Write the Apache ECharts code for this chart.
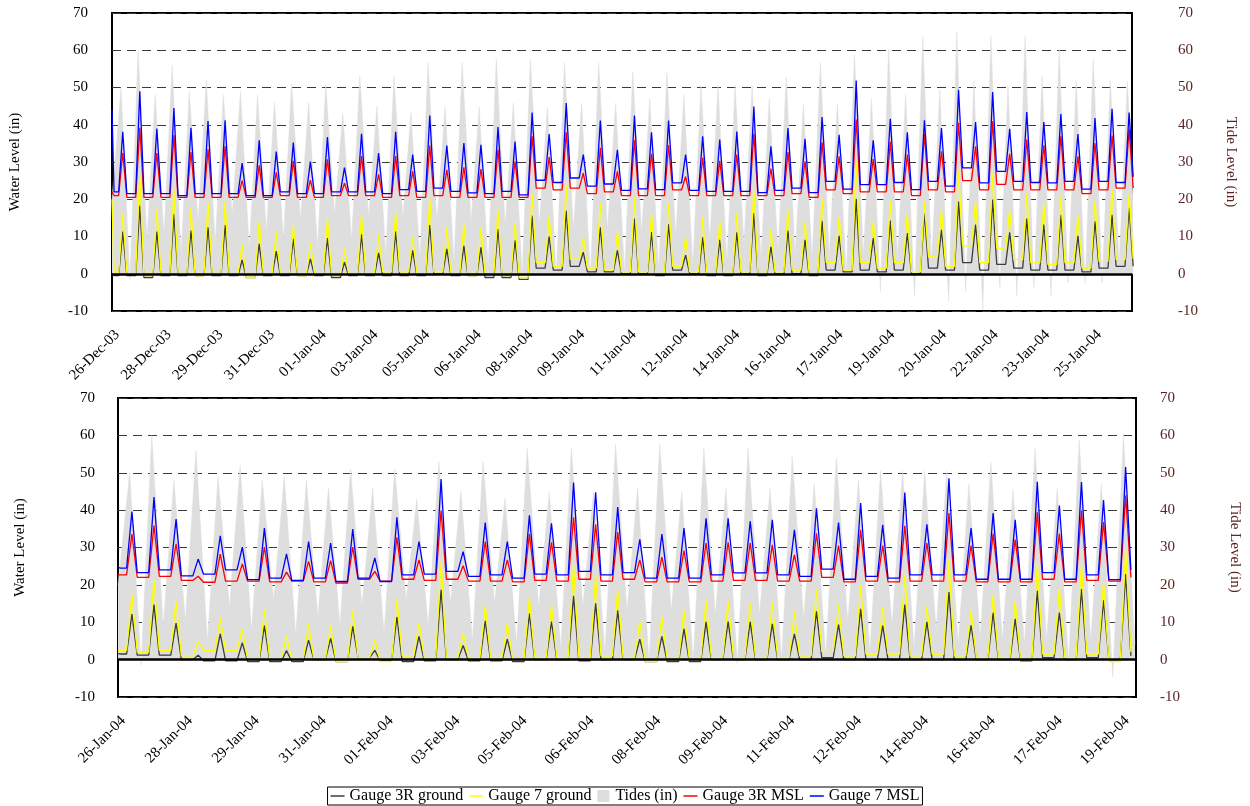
<!DOCTYPE html>
<html>
<head>
<meta charset="utf-8">
<title>Water Level / Tide Level</title>
<script src="https://cdn.jsdelivr.net/npm/echarts@6.0.0/dist/echarts.min.js"></script>
<style>
    html, body { margin: 0; padding: 0; background: #ffffff; }
    #chart { width: 1250px; height: 806px; }
</style>
</head>
<body>
<div id="chart"></div>
<script>
// x axis unit = one tidal cycle (~12.4 h); peak k sits at k + PHASE
var PHASE = 0.63;
var RISE = 0.24;       // gauge starts rising this far before its peak
var FALL = 0.24;       // and is back at base this far after
var TIDE_LEAD = 0.1;   // tide high comes a little before the gauge peak
var TIDE_LOW = 0.42;   // tide low between two highs
var LABEL_STEP = 3.03; // one date label every ~3 cycles

var FONT = 'Liberation Serif';
var TIDE_GRAY = '#dedede';

// ---- tick labels ----
var topDates = ['26-Dec-03', '28-Dec-03', '29-Dec-03', '31-Dec-03', '01-Jan-04', '03-Jan-04', '05-Jan-04',
    '06-Jan-04', '08-Jan-04', '09-Jan-04', '11-Jan-04', '12-Jan-04', '14-Jan-04', '16-Jan-04', '17-Jan-04',
    '19-Jan-04', '20-Jan-04', '22-Jan-04', '23-Jan-04', '25-Jan-04'];
var bottomDates = ['26-Jan-04', '28-Jan-04', '29-Jan-04', '31-Jan-04', '01-Feb-04', '03-Feb-04', '05-Feb-04',
    '06-Feb-04', '08-Feb-04', '09-Feb-04', '11-Feb-04', '12-Feb-04', '14-Feb-04', '16-Feb-04', '17-Feb-04',
    '19-Feb-04'];

// ---- tides (in), same sequence in both panels ----
var tideHighs = [50, 60, 48, 56, 49, 52, 48, 49, 48, 46, 51, 46, 51, 43, 53, 45, 53,
    43.3, 56.6, 44.8, 56.6, 44.8, 57.7, 45.8, 57.7, 44.8, 56.6, 45.8, 56.6, 45.8, 54.3, 47, 54, 48, 50.5, 50.5, 50.5, 50.5, 47, 52.8,
    45.4, 56.6, 45.7, 58.8, 47, 60.2, 48, 63.7, 49.4, 64.8, 51.7, 63.7, 50.5, 63.7, 53, 60.2, 51.8, 57.7, 51.8, 51.7];
var tideLows = [-1.5, 9, 10.5, 5, 14, 8, 16, 6.5, 11.4, 9.2, 14.5, 7, 16, 9,
    15, 5, 15, 4, 14, 3, 14, 2, 13, -0.5, 13, -0.5, 12, -1, 12, 0, 11, 1, 10, 2, 9, 3, 8, 4, 6, 5, 4, 5,
    -0.5, 5, -4.7, 4, -6, 3, -7.4, -4.7, -9.7, -3.6, -6, -3.6, -6, -2.5, -2.5, -2.5, 3, 3];

// ---- top panel: 26-Dec-03 .. 26-Jan-04 ----
// peaks: one per cycle; lows: base level before each peak (+ one trailing value)
var topBlackPeaks = [11.3, 18.3, 11.3, 16, 11.6, 12.5, 13.1, 3.7, 8, 6.1, 9.4, 4, 9.6, 3.1, 10.6, 5.6, 11.3,
    6.3, 13.1, 6.7, 7.5, 7.1, 12, 9, 15.6, 10, 16.9, 5.8, 12.5, 6.3, 14.8, 11.2, 13.3, 5, 9.8, 9.1, 11.1, 16.3, 7.2, 11.6,
    9.1, 14.2, 10.2, 20.1, 9.6, 14.3, 10.9, 16.3, 11.8, 19.4, 13.2, 19.9, 11.1, 14.8, 13.2, 15.8, 10.2, 14.1, 15.8, 17.8];
var topBlackLows = [-0.5, -0.5, -1, -0.5, -0.5, -0.5, -0.5, -0.5, -1, -0.5, -0.5, -0.5, -0.5, -1, -0.5, -0.5, -0.5,
    -0.5, -0.5, 0, -0.5, -0.5, -1, -1, -1.5, 1.5, 1, 2, 0.5, 0.5, 0, 0, -0.5, 1, 0, -0.5, -0.5, 0, -0.5, 0,
    0, -0.5, 1, 0.5, 1, 0.5, 1, 0, 1.5, 1, 3, 1, 2.5, 1.5, 1, 1, 1, 0.5, 1.5, 2, 2];
var topYellowPeaks = [16.3, 27.2, 17.2, 22.5, 17.6, 19.2, 19.3, 7.8, 14.2, 11.1, 13.1, 8.3, 14.9, 6.7, 15.8, 10.5, 16.5,
    10, 20.3, 12.3, 13.2, 12.5, 17.2, 13.6, 21.5, 15.4, 23.8, 9.8, 19, 11.4, 20.6, 16.3, 19, 9.8, 15, 14.1, 16.3, 22.7, 12, 17.2,
    14.1, 20.1, 15.2, 30, 14, 19.4, 16.1, 19.4, 17.2, 27.5, 19.4, 27, 17, 21.5, 18.8, 20.8, 15.6, 19.6, 22.4, 21.5];
var topYellowLows = [0, 0, -0.5, 0, 0, -0.5, 0, 0, -1, 0, 0, -0.5, 0, -0.5, 0, 0, 0.5,
    0.5, 0, 0.5, 0, -0.5, 0, -0.5, -1, 3, 2, 3.9, 1.5, 1, 0.5, 0.5, 0, 2, 0.5, 0, 0, 0.5, 0, 0.5,
    1, 0, 3, 1, 3, 1.5, 3, 0.5, 4.5, 2, 7.5, 3, 6.9, 3.8, 2.9, 2.5, 2.9, 1.5, 3.3, 3.8, 4];
var topRedPeaks = [32.4, 39.2, 32.4, 37.2, 32.7, 33.4, 34.3, 25, 29.1, 27.2, 30.3, 25.1, 30.7, 24.3, 31.6, 26.7, 31.6,
    27.5, 34.4, 27.9, 28.6, 28.1, 33.3, 30.2, 36.9, 31.3, 38, 27, 33.8, 27.5, 35.8, 32.2, 34.5, 26.1, 31.1, 30.3, 32, 37.6, 28.2, 32.7,
    30.2, 35.3, 31.5, 41.4, 30.8, 35.4, 32, 37.6, 32.9, 40.5, 34.2, 40.9, 32.2, 36, 34.5, 36.9, 31.5, 35.1, 37.1, 38.9];
var topRedLows = [21, 20.5, 20.5, 20.5, 20.5, 20.5, 20.5, 20.5, 20.5, 20.5, 21, 20.5, 20.5, 21, 21, 21, 20.5,
    21, 20.5, 21, 20.5, 20.5, 20.5, 20.5, 20.5, 23, 22.5, 23, 21.5, 22, 21, 21, 21, 22.5, 21, 21, 21, 21, 21, 21,
    21.5, 20.5, 22.5, 21.5, 22, 22, 22, 21, 22.5, 22, 25, 22.5, 24, 22.5, 22.5, 22.5, 22.5, 21.5, 22.5, 23, 23];
var topBluePeaks = [38.1, 49, 39, 44.5, 39.2, 41, 41.2, 29.7, 35.8, 32.8, 35.2, 30.1, 36.7, 28.5, 37.6, 32.4, 38.1,
    32, 42.5, 34.4, 35.1, 34.6, 39.4, 35.5, 43.3, 37.5, 45.8, 32, 41.1, 33.3, 42.5, 38, 41.1, 32, 36.9, 36, 38.2, 44.9, 34.2, 39.1,
    36.2, 42.1, 37.3, 51.9, 35.8, 41.6, 38, 41.2, 39.1, 49.4, 40.7, 48.8, 38.9, 43.4, 40.7, 42.9, 37.5, 41.8, 44.3, 43.3];
var topBlueLows = [22, 21.5, 21.5, 21.5, 21, 21.5, 21.5, 21.5, 21, 21, 22, 21.5, 21.5, 22, 22, 22, 21.5,
    22.6, 22.1, 23, 22.1, 21.7, 21.5, 22.1, 21.2, 25.1, 24.5, 25.7, 23.5, 24.1, 22.4, 22.8, 22.6, 24.4, 22.4, 22.1, 22.1, 22.1, 21.8, 22.4,
    23, 21.8, 24.8, 22.7, 23.9, 23.9, 24.5, 22.6, 24.8, 23.5, 28.4, 24.4, 27.5, 24.8, 24.5, 24.4, 24.8, 22.7, 24.8, 24.5, 26];
// value at the left edge: black, yellow, tide, red, blue
var topEdge = [0, 20, 20, 22, 44];

// ---- bottom panel: 26-Jan-04 .. 20-Feb-04 ----
var bottomBlackPeaks = [12.2, 14.7, 9.8, 1.2, 6.9, 4.5, 9.1, 2.4, 5.2, 5.7, 8.9, 2.5, 11.4, 6.2,
    18.7, 3.8, 10.4, 5.5, 12.3, 10.2, 17.1, 15.1, 13.2, 5.5, 6.2, 8.2, 10.1, 10.2, 10.1, 9.6, 6.9,
    12.9, 9.4, 13.6, 9.1, 14.7, 10.1, 18.1, 9.2, 12.5, 10.9, 18.4, 12.6, 18.9, 15.9, 22.9];
var bottomBlackLows = [1.5, 1.2, 1.2, 0, -0.3, -0.3, -0.5, -0.5, -0.5, 0, -0.5, 0.5, -0.3, -0.5,
    -0.3, 0, -0.3, -0.3, -0.5, 0, 0, -0.3, 0, 0, -0.5, -0.5, -0.5, 0, 0, 0, 0,
    0, 0.5, 0, 0, 0, 0, 0, 0, 0, 0, -0.3, 0.5, 0, 0.5, 0, 1];
var bottomYellowPeaks = [17.5, 21.4, 15.6, 4.9, 11.1, 8.2, 13.4, 6.2, 9.6, 9.1, 13.1, 5.2, 16.2, 9.8,
    26.3, 7.1, 14.5, 9.6, 16.7, 14.4, 25.6, 22.7, 18.7, 10.2, 11.6, 13.2, 15.9, 15.6, 15.1, 15.3, 12.7,
    18.7, 14.7, 19.8, 13.8, 22.7, 14.2, 26.7, 13.2, 17.4, 15.6, 25.8, 19.1, 25.6, 20.7, 29.6];
var bottomYellowLows = [2.5, 2, 2.5, 1, 2.5, 2.5, 0, 0, 0, 0, -0.5, 0.5, -0.5, 1,
    0.5, 0.5, 0.5, 0.5, 0, 0.5, 0.5, 0.5, 1, 0.5, -0.5, 0, 0, 0.5, 0.5, 0.5, 0.5,
    1, 2.2, 1, 1.5, 1.5, 1, 1.5, 1, 0.5, 0.5, 0, 1.5, 0.5, 1.5, -0.5, 2];
var bottomRedPeaks = [33.6, 35.9, 31, 22.3, 28.2, 25.6, 30.1, 23.4, 26.3, 26.5, 30.1, 23.6, 32.7, 26.7,
    39.9, 25.1, 31.6, 26.7, 33.6, 31.4, 38.1, 36.2, 34.1, 26.7, 27.4, 29.2, 31.2, 31.4, 31.2, 30.7, 28,
    33.8, 30.5, 34.7, 30.5, 35.8, 31.2, 39.2, 30.5, 33.7, 32.1, 39.4, 33.7, 39.9, 36.8, 43.9];
var bottomRedLows = [22.7, 22, 22.3, 21.2, 20.7, 21, 21, 20.8, 21, 20.8, 20.5, 21.5, 21, 21.5,
    21.2, 21.5, 21, 21, 20.8, 21.2, 21, 21.5, 21, 21.5, 20.8, 20.8, 20.8, 21, 21.2, 21.2, 21,
    21, 22, 20.8, 21, 20.8, 21, 21, 21, 20.8, 20.8, 20.8, 21.5, 20.8, 21.2, 21, 22];
var bottomBluePeaks = [39.6, 43.5, 37.6, 26.9, 33.1, 30.1, 35.2, 28.3, 31.6, 31.2, 34.9, 27.2, 38.1, 31.6,
    48.3, 28.9, 36.7, 31.6, 38.6, 36.5, 47.4, 44.8, 40.8, 32.2, 33.6, 35.2, 37.8, 37.8, 37, 37.4, 34.7,
    40.5, 36.7, 41.9, 36.1, 44.7, 36.2, 48.5, 35.2, 39.2, 37.4, 47.6, 41.2, 47.5, 42.7, 51.5];
var bottomBlueLows = [24.5, 23.3, 24, 22.4, 22.9, 24, 21.4, 21.8, 21.2, 21.8, 20.9, 21.8, 20.9, 22.7,
    22.9, 23.6, 22.3, 22.7, 21.8, 22.9, 22.7, 23.6, 22.7, 23.3, 21.8, 21.8, 21.8, 22.7, 23.2, 23.2, 22.7,
    22.3, 24.2, 21.5, 22.3, 21.8, 22.7, 22.7, 22.7, 21.5, 21.5, 21.5, 23.3, 21.5, 22.7, 21.4, 24];
var bottomEdge = [1.6, 2.5, 20, 22.7, 24.7];


// Build [x, y] pairs for a gauge line: flat base, quick rise to the peak, quick fall
function GaugePoints(_peaks, _lows, _edge) {
    var pts = [[0, _edge], [0.12, _lows[0]]];
    for (var k = 0; k < _peaks.length; k++) {
        var c = k + PHASE;
        pts.push([c - RISE, _lows[k]]);
        pts.push([c, _peaks[k]]);
        pts.push([c + FALL, _lows[k + 1]]);
    }
    return pts;
}

function TidePoints(_highs, _lows, _edge) {
    var pts = [[0, _edge]];
    for (var k = 0; k < _highs.length; k++) {
        var c = k + PHASE;
        pts.push([c - TIDE_LEAD, _highs[k]]);
        pts.push([c + TIDE_LOW, _lows[k]]);
    }
    return pts;
}

function DateFormatter(_labels) {
    return function (value) {
        var i = Math.round(value / LABEL_STEP);
        if (Math.abs(value - i * LABEL_STEP) > 0.001) return '';
        return _labels[i] || '';
    };
}

function XAxis(_grid, _max, _labels) {
    return {
        type: 'value',
        gridIndex: _grid,
        min: 0,
        max: _max,
        interval: LABEL_STEP,
        axisLine: { show: false },
        axisTick: { show: false },
        splitLine: { show: false },
        axisLabel: {
            rotate: 45,
            verticalAlign: 'top',
            margin: 16,
            fontFamily: FONT,
            fontSize: 15,
            color: '#000',
            formatter: DateFormatter(_labels)
        }
    };
}

function YAxis(_grid, _right, _labelMargin, _nameGap) {
    var col = _right ? '#5c2323' : '#000';
    return {
        type: 'value',
        gridIndex: _grid,
        position: _right ? 'right' : 'left',
        min: -10,
        max: 70,
        interval: 10,
        name: _right ? 'Tide Level (in)' : 'Water Level (in)',
        nameLocation: 'middle',
        nameGap: _nameGap,
        nameRotate: _right ? -90 : 90,
        nameTextStyle: { fontFamily: FONT, fontSize: 15, color: col },
        axisLine: { show: false },
        axisTick: { show: false },
        axisLabel: {
            margin: _labelMargin,
            fontFamily: FONT,
            fontSize: 15,
            color: col,
            showMinLabel: true,
            showMaxLabel: true
        },
        splitLine: {
            show: !_right,
            lineStyle: { color: '#3a3a3a', width: 1, type: [9, 6] }
        }
    };
}

function LineSeries(_name, _grid, _color, _points, _zeroLine) {
    var s = {
        name: _name,
        type: 'line',
        xAxisIndex: _grid,
        yAxisIndex: _grid * 2,
        data: _points,
        symbol: 'none',
        silent: true,
        lineStyle: { width: 1.3, color: _color },
        itemStyle: { color: _color },
        z: 3
    };
    if (_zeroLine) {
        s.markLine = {
            silent: true,
            symbol: 'none',
            label: { show: false },
            lineStyle: { color: '#000', width: 2.5, type: 'solid' },
            data: [{ yAxis: 0 }]
        };
    }
    return s;
}

function TideSeries(_grid, _points) {
    return {
        name: 'Tides (in)',
        type: 'line',
        xAxisIndex: _grid,
        yAxisIndex: _grid * 2 + 1,
        data: _points,
        symbol: 'none',
        silent: true,
        lineStyle: { width: 0.5, color: TIDE_GRAY },
        itemStyle: { color: TIDE_GRAY },
        areaStyle: { color: TIDE_GRAY, opacity: 1 },
        z: 1
    };
}

function PanelSeries(_grid, _edge, blackPk, blackLo, yellowPk, yellowLo, redPk, redLo, bluePk, blueLo, nCycles) {
    return [
        TideSeries(_grid, TidePoints(tideHighs.slice(0, nCycles), tideLows.slice(0, nCycles), _edge[2])),
        LineSeries('Gauge 3R ground', _grid, '#3c3c3c', GaugePoints(blackPk, blackLo, _edge[0]), false),
        LineSeries('Gauge 7 ground', _grid, '#ffff00', GaugePoints(yellowPk, yellowLo, _edge[1]), false),
        LineSeries('Gauge 3R MSL', _grid, '#ff0000', GaugePoints(redPk, redLo, _edge[3]), false),
        LineSeries('Gauge 7 MSL', _grid, '#0000ff', GaugePoints(bluePk, blueLo, _edge[4]), true)
    ];
}

var LINE_ICON = 'path://M0,0H14V1.5H0Z';
var BOX_ICON = 'path://M0,0H10V10H0Z';

var myChart = echarts.init(document.getElementById('chart'), null, { renderer: 'canvas' });

var option = {
    backgroundColor: '#ffffff',
    animation: false,
    textStyle: { fontFamily: FONT },
    grid: [
        { left: 112, right: 118, top: 13, height: 298, show: true, borderColor: '#000', borderWidth: 2, backgroundColor: 'transparent' },
        { left: 118, right: 113, top: 398, height: 299, show: true, borderColor: '#000', borderWidth: 2, backgroundColor: 'transparent' }
    ],
    xAxis: [
        XAxis(0, 59.8, topDates),
        XAxis(1, 46.1, bottomDates)
    ],
    yAxis: [
        YAxis(0, false, 24, 89),
        YAxis(0, true, 46, 91),
        YAxis(1, false, 23, 90),
        YAxis(1, true, 24, 91)
    ],
    legend: {
        left: 'center',
        bottom: 1,
        selectedMode: false,
        itemWidth: 14,
        itemHeight: 12,
        itemGap: 6,
        padding: [1, 3],
        borderColor: '#000',
        borderWidth: 1,
        itemStyle: { borderWidth: 0 },
        textStyle: { fontFamily: FONT, fontSize: 16, color: '#000' },
        data: [
            { name: 'Gauge 3R ground', icon: LINE_ICON },
            { name: 'Gauge 7 ground', icon: LINE_ICON },
            { name: 'Tides (in)', icon: BOX_ICON },
            { name: 'Gauge 3R MSL', icon: LINE_ICON },
            { name: 'Gauge 7 MSL', icon: LINE_ICON }
        ]
    },
    series: [].concat(
        PanelSeries(0, topEdge, topBlackPeaks, topBlackLows, topYellowPeaks, topYellowLows,
            topRedPeaks, topRedLows, topBluePeaks, topBlueLows, topBluePeaks.length),
        PanelSeries(1, bottomEdge, bottomBlackPeaks, bottomBlackLows, bottomYellowPeaks, bottomYellowLows,
            bottomRedPeaks, bottomRedLows, bottomBluePeaks, bottomBlueLows, bottomBluePeaks.length)
    )
};

myChart.setOption(option);
</script>
</body>
</html>
